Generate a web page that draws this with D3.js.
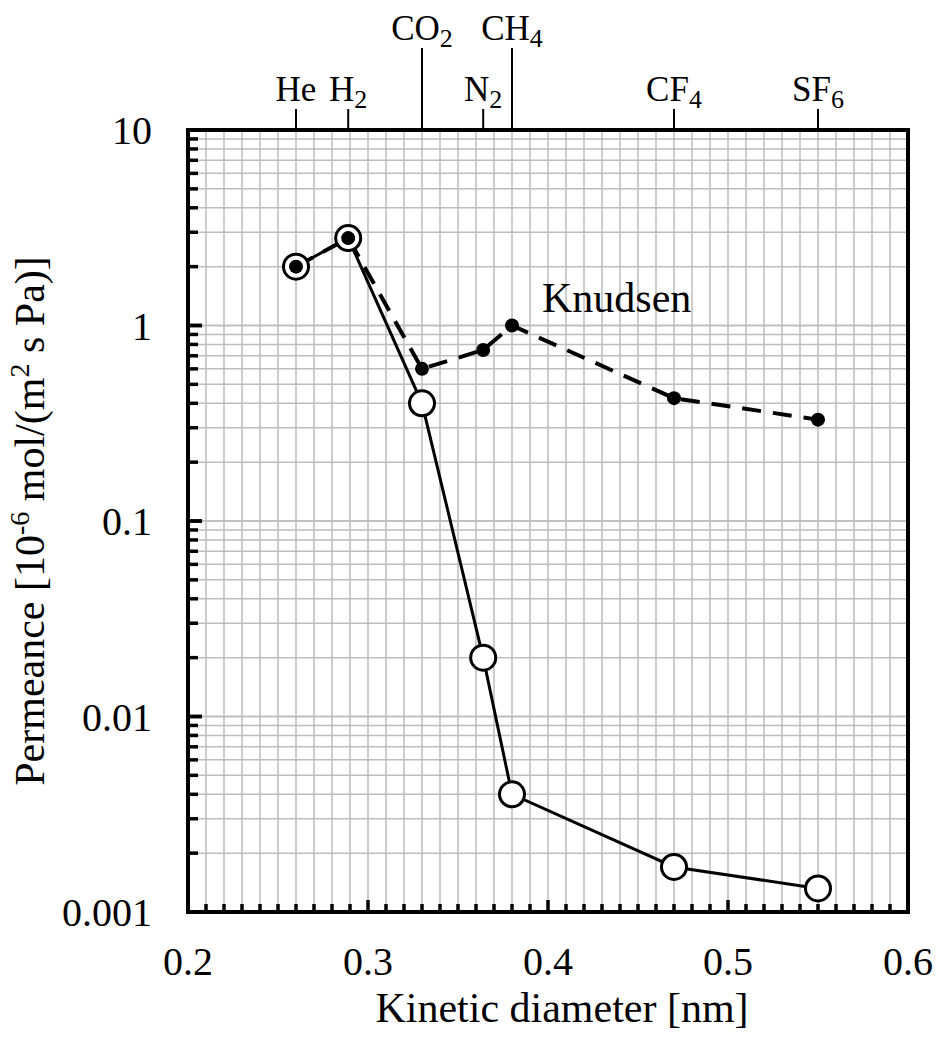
<!DOCTYPE html>
<html>
<head>
<meta charset="utf-8">
<script src="https://cdn.jsdelivr.net/npm/d3@7"></script>
<style>
  body { margin: 0; background: #fff; }
</style>
</head>
<body>
<svg id="graph"></svg>
<script>
// gases and their kinetic diameters (nm)
const gases = ["He", "H2", "CO2", "N2", "CH4", "CF4", "SF6"];
const gasSub = ["", "2", "2", "2", "4", "4", "6"];
const gasBase = ["He", "H", "CO", "N", "CH", "CF", "SF"];
const diameter = [0.26, 0.289, 0.33, 0.364, 0.38, 0.47, 0.55];
const tallLabel = [false, false, true, false, true, false, false];

// measured permeance, 10^-6 mol/(m2 s Pa)
const measured = [2.0, 2.8, 0.4, 0.02, 0.004, 0.0017, 0.00132];
// Knudsen prediction
const knudsen = [2.0, 2.8, 0.6, 0.75, 1.0, 0.425, 0.33];

const xTicks = [0.2, 0.3, 0.4, 0.5, 0.6];
const yTicks = [0.001, 0.01, 0.1, 1, 10];
const yTickLabels = ["0.001", "0.01", "0.1", "1", "10"];

const width = 938;
const height = 1039;
const margin = ({top: 130, right: 30, bottom: 127, left: 188});

const x = d3.scaleLinear().domain([0.2, 0.6]).range([margin.left, width - margin.right]);
const y = d3.scaleLog().domain([0.001, 10]).range([height - margin.bottom, margin.top]);

const svg = d3.select('#graph').attr('width', width).attr('height', height)
  .attr("font-family", "'Liberation Serif', 'Times New Roman', Times, 'DejaVu Serif', serif");

// grid
const xMinor = d3.range(21, 60).map(d => d / 100);
const yMinor = [];
[0.001, 0.01, 0.1, 1].forEach(dec => {
  for (let k = 1; k <= 10; k++) yMinor.push(dec * k);
});

svg.append("g").selectAll("line").data(xMinor).join("line")
  .attr("x1", d => x(d)).attr("x2", d => x(d))
  .attr("y1", y(10)).attr("y2", y(0.001))
  .attr("stroke", "#bdbdbd").attr("stroke-width", 1.5);
svg.append("g").selectAll("line").data(yMinor).join("line")
  .attr("x1", x(0.2)).attr("x2", x(0.6))
  .attr("y1", d => y(d)).attr("y2", d => y(d))
  .attr("stroke", "#bdbdbd").attr("stroke-width", 1.5);

// inward ticks
const bottomTicks = d3.range(21, 60).map(d => d / 100);
svg.append("g").selectAll("line").data(bottomTicks).join("line")
  .attr("x1", d => x(d)).attr("x2", d => x(d))
  .attr("y1", y(0.001))
  .attr("y2", d => y(0.001) - (Math.round(d * 100) % 10 === 0 ? 12 : 8))
  .attr("stroke", "#000").attr("stroke-width", 3.5);
svg.append("g").selectAll("line").data(yMinor).join("line")
  .attr("x1", x(0.2))
  .attr("x2", d => x(0.2) + (yTicks.includes(+d.toPrecision(3)) ? 14 : 10))
  .attr("y1", d => y(d)).attr("y2", d => y(d))
  .attr("stroke", "#000").attr("stroke-width", 3.5);

// frame
svg.append("rect")
  .attr("x", x(0.2)).attr("y", y(10))
  .attr("width", x(0.6) - x(0.2)).attr("height", y(0.001) - y(10))
  .attr("fill", "none").attr("stroke", "#000").attr("stroke-width", 4);

// tick labels
svg.append("g").selectAll("text").data(xTicks).join("text")
  .attr("x", d => x(d)).attr("y", 975)
  .attr("text-anchor", "middle").attr("font-size", 40)
  .text(d => d.toFixed(1));
svg.append("g").selectAll("text").data(yTicks).join("text")
  .attr("x", 152).attr("y", d => y(d)).attr("dy", "0.35em")
  .attr("text-anchor", "end").attr("font-size", 40)
  .text((d, i) => yTickLabels[i]);

// top gas markers
const gasAxis = svg.append("g");
gases.forEach((g, i) => {
  const gx = x(diameter[i]);
  const tickTop = tallLabel[i] ? 48 : 109;
  gasAxis.append("line")
    .attr("x1", gx).attr("x2", gx).attr("y1", y(10)).attr("y2", tickTop)
    .attr("stroke", "#000").attr("stroke-width", 2);
  const t = gasAxis.append("text")
    .attr("x", gx).attr("y", tickTop - 8)
    .attr("text-anchor", "middle").attr("font-size", 35);
  t.append("tspan").text(gasBase[i]);
  if (gasSub[i]) {
    t.append("tspan").attr("font-size", 26).attr("dy", 7).text(gasSub[i]);
  }
});

// data lines
const pts = (vals) => diameter.map((d, i) => ({d: d, p: vals[i]}));
const line = d3.line().x(d => x(d.d)).y(d => y(d.p));

svg.append("path").datum(pts(measured))
  .attr("fill", "none").attr("stroke", "#000").attr("stroke-width", 3)
  .attr("d", line);

svg.append("path").datum(pts(knudsen))
  .attr("fill", "none").attr("stroke", "#000").attr("stroke-width", 4)
  .attr("stroke-dasharray", "19,12")
  .attr("d", line);

svg.append("g").selectAll("circle").data(pts(measured)).join("circle")
  .attr("cx", d => x(d.d)).attr("cy", d => y(d.p)).attr("r", 12.5)
  .attr("fill", "#fff").attr("stroke", "#000").attr("stroke-width", 3);

svg.append("g").selectAll("circle").data(pts(knudsen)).join("circle")
  .attr("cx", d => x(d.d)).attr("cy", d => y(d.p)).attr("r", 7)
  .attr("fill", "#000");

svg.append("text")
  .attr("x", 542).attr("y", 312).attr("font-size", 42)
  .text("Knudsen");

// axis titles
svg.append("text")
  .attr("x", 562).attr("y", 1022)
  .attr("text-anchor", "middle").attr("font-size", 42)
  .text("Kinetic diameter [nm]");

const yl = svg.append("text")
  .attr("transform", `translate(44, ${(y(10) + y(0.001)) / 2}) rotate(-90)`)
  .attr("text-anchor", "middle").attr("font-size", 42);
yl.append("tspan").text("Permeance [10");
yl.append("tspan").attr("font-size", 28).attr("dy", -15).text("-6");
yl.append("tspan").attr("dy", 15).text(" mol/(m");
yl.append("tspan").attr("font-size", 28).attr("dy", -15).text("2");
yl.append("tspan").attr("dy", 15).text(" s Pa)]");
</script>
</body>
</html>
